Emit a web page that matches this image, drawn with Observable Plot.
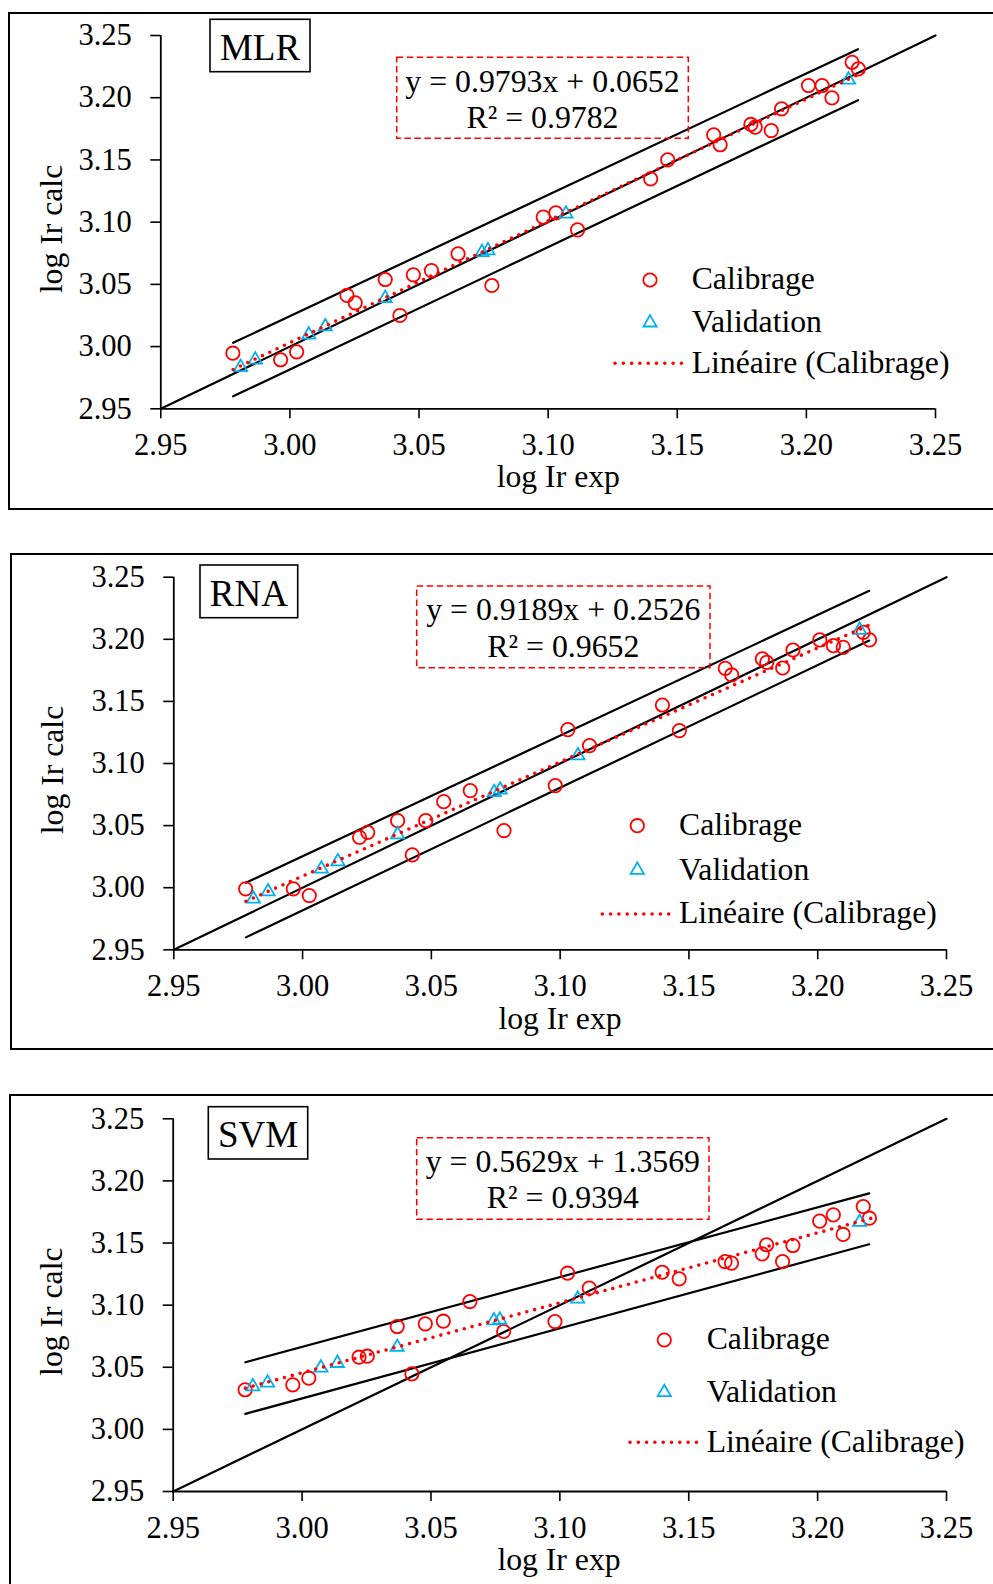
<!DOCTYPE html>
<html><head><meta charset="utf-8">
<script src="https://cdn.jsdelivr.net/npm/d3@7"></script>
<script src="https://cdn.jsdelivr.net/npm/@observablehq/plot@0.6"></script>
<style>
body{margin:0;background:#fff;}
#page{position:relative;width:993px;height:1584px;overflow:hidden;background:#fff;}
.frame{position:absolute;border:2.5px solid #000;box-sizing:border-box;}
.plot{position:absolute;left:0;}
#overlay{position:absolute;left:0;top:0;}
</style></head><body><div id="page"></div>
<script>
// ---------- data ----------
const xTicks = [2.95, 3.00, 3.05, 3.10, 3.15, 3.20, 3.25];
const yTicks = [2.95, 3.00, 3.05, 3.10, 3.15, 3.20, 3.25];
const identityEnds = [2.95, 3.25];

const modelNames = ["MLR", "RNA", "SVM"];
const equations = ["y = 0.9793x + 0.0652", "y = 0.9189x + 0.2526", "y = 0.5629x + 1.3569"];
const r2Labels = ["R² = 0.9782", "R² = 0.9652", "R² = 0.9394"];
const legendLabels = ["Calibrage", "Validation", "Linéaire (Calibrage)"];

// log Ir exp (calibration set)
const calX = [2.9779, 2.9964, 3.0026, 3.0221, 3.0253, 3.0369, 3.0426, 3.0478, 3.0548, 3.0651,
  3.0782, 3.0981, 3.1030, 3.1114, 3.1397, 3.1463, 3.1641, 3.1666, 3.1785, 3.1802,
  3.1864, 3.1904, 3.2008, 3.2061, 3.2099, 3.2177, 3.2201];
// log Ir exp (validation set)
const valX = [2.9809, 2.9866, 3.0073, 3.0137, 3.0369, 3.0744, 3.0767, 3.1069, 3.2163];

// log Ir calc
const mlrCalY = [2.9947, 2.9894, 2.9958, 3.0411, 3.0352, 3.0539, 3.0250, 3.0577, 3.0611, 3.0746,
  3.0491, 3.1040, 3.1075, 3.0938, 3.1348, 3.1501, 3.1702, 3.1622, 3.1785, 3.1763,
  3.1736, 3.1911, 3.2098, 3.2098, 3.1999, 3.2285, 3.2232];
const mlrValY = [2.9834, 2.9894, 3.0095, 3.0161, 3.0389, 3.0758, 3.0772, 3.1067, 3.2144];

const rnaCalY = [2.9991, 2.9991, 2.9937, 3.0406, 3.0446, 3.0540, 3.0264, 3.0540, 3.0693, 3.0782,
  3.0460, 3.0822, 3.1273, 3.1144, 3.1471, 3.1265, 3.1766, 3.1713, 3.1842, 3.1814,
  3.1769, 3.1914, 3.1995, 3.1949, 3.1935, 3.2056, 3.1995];
const rnaValY = [2.9910, 2.9969, 3.0152, 3.0211, 3.0428, 3.0768, 3.0788, 3.1064, 3.2075];

const svmCalY = [3.0319, 3.0359, 3.0412, 3.0581, 3.0589, 3.0828, 3.0447, 3.0850, 3.0871, 3.1029,
  3.0788, 3.0868, 3.1257, 3.1137, 3.1265, 3.1212, 3.1351, 3.1338, 3.1413, 3.1486,
  3.1351, 3.1480, 3.1676, 3.1727, 3.1569, 3.1794, 3.1700];
const svmValY = [3.0345, 3.0375, 3.0496, 3.0533, 3.0662, 3.0876, 3.0882, 3.1051, 3.1668];

// band lines (start / end)
const bandX = [2.978, 3.220];
const mlrUpper = [3.003, 3.239], mlrLower = [2.960, 3.198];
const rnaUpper = [3.004, 3.239], rnaLower = [2.960, 3.199];
const svmUpper = [3.054, 3.190], svmLower = [3.0125, 3.149];

// trend (Linéaire (Calibrage)) end points
const trendX = [2.978, 3.222];
const mlrTrend = [2.9816, 3.2205];
const rnaTrend = [2.9891, 3.2133];
const svmTrend = [3.0332, 3.1706];

// ---------- layout (page pixels) ----------
const layouts = [
  {top: 0, height: 500, ml: 160.3, mr: 58, mt: 35, mb: 91.7,
   frame: [8, 12, 1100, 498.2],
   yTitle: [61.7, 229], xTitle: [558.3, 487.3],
   nameBox: [210, 19.3, 100, 52.4], nameBase: 60,
   eqBox: [396.7, 57.3, 291.6, 81], eqBase: [91.7, 128.3],
   leg: {sx: 650, tx: 691.7, y: [280, 322.7, 363.3], base: [289.3, 331.7, 373.3], line: [615, 681.7]}},
  {top: 540, height: 500, ml: 173.3, mr: 47, mt: 36.7, mb: 90.7,
   frame: [9.8, 553, 1100, 496.8],
   yTitle: [62.7, 770], xTitle: [560, 1029.3],
   nameBox: [200, 565, 97.7, 52.7], nameBase: 605.7,
   eqBox: [416.7, 586, 293.3, 81.7], eqBase: [620, 656.7],
   leg: {sx: 637.3, tx: 679, y: [825.7, 870, 914], base: [835, 880, 923.3], line: [602.3, 670]}},
  {top: 1080, height: 504, ml: 172.7, mr: 47, mt: 38.3, mb: 93,
   frame: [8.8, 1093.8, 1100, 600],
   yTitle: [61.7, 1311.7], xTitle: [559, 1570],
   nameBox: [208.3, 1106.7, 99.4, 52.3], nameBase: 1146.7,
   eqBox: [416.7, 1137.7, 292.3, 81.6], eqBase: [1171.7, 1208.3],
   leg: {sx: 664.3, tx: 706.7, y: [1340, 1392.3, 1442.3], base: [1349.3, 1401.7, 1452.3], line: [630, 697.3]}}
];

const series = [
  {cal: mlrCalY, val: mlrValY, up: mlrUpper, lo: mlrLower, trend: mlrTrend},
  {cal: rnaCalY, val: rnaValY, up: rnaUpper, lo: rnaLower, trend: rnaTrend},
  {cal: svmCalY, val: svmValY, up: svmUpper, lo: svmLower, trend: svmTrend}
];

const RED = "#FF0000", CYAN = "#00B0F0";
const FONT = "'Liberation Serif','Times New Roman',serif";
const CIRCLE_R = 6.7, TRI_R = 4.9, MARK_SW = 1.8;
const page = document.getElementById("page");

series.forEach((s, i) => {
  const L = layouts[i];
  const fr = document.createElement("div");
  fr.className = "frame";
  Object.assign(fr.style, {left: L.frame[0] + "px", top: L.frame[1] + "px", width: L.frame[2] + "px", height: L.frame[3] + "px"});
  page.appendChild(fr);

  const cal = calX.map((x, k) => ({x, y: s.cal[k]}));
  const val = valX.map((x, k) => ({x, y: s.val[k]}));
  const ident = identityEnds.map(v => ({x: v, y: v}));
  const up = bandX.map((x, k) => ({x, y: s.up[k]}));
  const lo = bandX.map((x, k) => ({x, y: s.lo[k]}));
  const tr = trendX.map((x, k) => ({x, y: s.trend[k]}));

  const chart = Plot.plot({
    width: 993, height: L.height,
    marginLeft: L.ml, marginRight: L.mr, marginTop: L.mt, marginBottom: L.mb,
    x: {domain: [2.95, 3.25]},
    y: {domain: [2.95, 3.25]},
    style: {fontFamily: FONT, fontSize: "30px", color: "#000", background: "transparent", overflow: "visible"},
    marks: [
      Plot.axisX({ticks: xTicks, tickFormat: d3.format(".2f"), tickSize: 10, tickPadding: 15, label: null,
        strokeWidth: 1.6, fontSize: 30.5, fontFamily: FONT, fontVariant: "normal"}),
      Plot.axisY({ticks: yTicks, tickFormat: d3.format(".2f"), tickSize: 10, tickPadding: 19, label: null,
        strokeWidth: 1.6, fontSize: 30.5, fontFamily: FONT, fontVariant: "normal"}),
      Plot.ruleY([2.95], {stroke: "#000", strokeWidth: 1.8}),
      Plot.ruleX([2.95], {stroke: "#000", strokeWidth: 1.8}),
      Plot.line(ident, {x: "x", y: "y", stroke: "#000", strokeWidth: 2.2}),
      Plot.line(up, {x: "x", y: "y", stroke: "#000", strokeWidth: 2.2}),
      Plot.line(lo, {x: "x", y: "y", stroke: "#000", strokeWidth: 2.2}),
      Plot.dot(cal, {x: "x", y: "y", r: CIRCLE_R, stroke: RED, strokeWidth: MARK_SW, fill: "none"}),
      Plot.dot(val, {x: "x", y: "y", symbol: "triangle", r: TRI_R, stroke: CYAN, strokeWidth: MARK_SW, fill: "none"}),
      Plot.line(tr, {x: "x", y: "y", stroke: RED, strokeWidth: 3.6, strokeDasharray: "0,8.1", strokeLinecap: "round"})
    ]
  });
  chart.classList.add("plot");
  chart.style.position = "absolute";
  chart.style.top = L.top + "px";
  chart.style.left = "0px";
  page.appendChild(chart);
});

// ---------- annotations overlay ----------
const ov = d3.select(page).append("svg").attr("id", "overlay")
  .attr("width", 993).attr("height", 1584)
  .style("font-family", FONT).style("pointer-events", "none");

layouts.forEach((L, i) => {
  const g = ov.append("g").attr("fill", "#000");
  g.append("text").attr("transform", `translate(${L.yTitle[0]},${L.yTitle[1]}) rotate(-90)`)
    .attr("text-anchor", "middle").attr("font-size", 31.7).text("log Ir calc");
  g.append("text").attr("x", L.xTitle[0]).attr("y", L.xTitle[1])
    .attr("text-anchor", "middle").attr("font-size", 31.7).text("log Ir exp");
  // model name box
  const nb = L.nameBox;
  g.append("rect").attr("x", nb[0]).attr("y", nb[1]).attr("width", nb[2]).attr("height", nb[3])
    .attr("fill", "none").attr("stroke", "#000").attr("stroke-width", 1.6);
  g.append("text").attr("x", nb[0] + nb[2] / 2).attr("y", L.nameBase)
    .attr("text-anchor", "middle").attr("font-size", 37).text(modelNames[i]);
  // equation box
  const eb = L.eqBox;
  g.append("rect").attr("x", eb[0]).attr("y", eb[1]).attr("width", eb[2]).attr("height", eb[3])
    .attr("fill", "none").attr("stroke", RED).attr("stroke-width", 1.5).attr("stroke-dasharray", "6.5,3.5");
  g.append("text").attr("x", eb[0] + eb[2] / 2).attr("y", L.eqBase[0])
    .attr("text-anchor", "middle").attr("font-size", 31.8).text(equations[i]);
  g.append("text").attr("x", eb[0] + eb[2] / 2).attr("y", L.eqBase[1])
    .attr("text-anchor", "middle").attr("font-size", 31.8).text(r2Labels[i]);
  // legend
  const lg = L.leg;
  g.append("circle").attr("cx", lg.sx).attr("cy", lg.y[0]).attr("r", CIRCLE_R)
    .attr("fill", "none").attr("stroke", RED).attr("stroke-width", MARK_SW);
  g.append("path").attr("transform", `translate(${lg.sx},${lg.y[1]})`)
    .attr("d", d3.symbol(d3.symbolTriangle, Math.PI * TRI_R * TRI_R)())
    .attr("fill", "none").attr("stroke", CYAN).attr("stroke-width", MARK_SW);
  g.append("line").attr("x1", lg.line[0]).attr("x2", lg.line[1]).attr("y1", lg.y[2]).attr("y2", lg.y[2])
    .attr("stroke", RED).attr("stroke-width", 3.6).attr("stroke-dasharray", "0,8.3").attr("stroke-linecap", "round");
  legendLabels.forEach((t, k) => {
    g.append("text").attr("x", lg.tx).attr("y", lg.base[k]).attr("font-size", 31.7).text(t);
  });
});
</script></body></html>
